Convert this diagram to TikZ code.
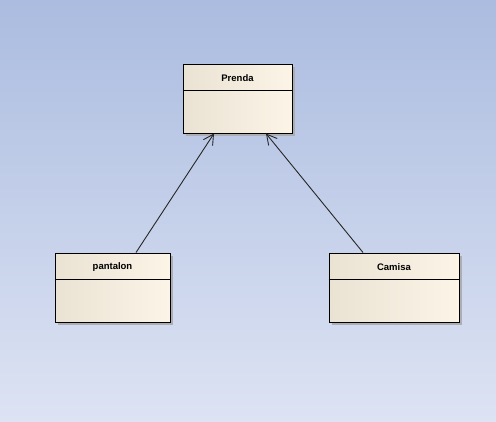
\documentclass[tikz,border=0pt]{standalone}
\usepackage{fontspec}
\setsansfont{Liberation Sans}
\usetikzlibrary{arrows.meta,shadows}
\definecolor{bgtop}{RGB}{171,188,224}
\definecolor{bgbottom}{RGB}{221,227,243}
\definecolor{boxleft}{RGB}{234,226,211}
\definecolor{boxright}{RGB}{252,244,230}
\definecolor{shadowgray}{RGB}{172,174,180}
\tikzset{
classbox/.style={
  rectangle,
  draw=black,
  line width=1pt,
  inner sep=0pt,
  minimum height=69pt,
  left color=boxleft,
  right color=boxright,
  drop shadow={shadow xshift=3pt,shadow yshift=-3pt,fill=shadowgray,opacity=1}
},
classname/.style={
  font=\sffamily\bfseries\fontsize{9.5}{11}\selectfont,
  inner sep=1pt
},
classline/.style={line width=1pt},
generalize/.style={
  draw=black!85,
  line width=0.9pt,
  -{Straight Barb[length=10pt,width=11pt,line width=0.9pt]}
}
}
\begin{document}
\begin{tikzpicture}[x=1pt,y=-1pt]
\fill[top color=bgtop,bottom color=bgbottom] (0,0) rectangle (496,421);
\node[classbox,minimum width=109pt] (prenda) at (237.5,98.5) {};
\node[classbox,minimum width=115pt] (pantalon) at (112.5,287.5) {};
\node[classbox,minimum width=130pt] (camisa) at (394,287.5) {};
\node[classname] (prenda-name) at ([yshift=-15pt]prenda.north) {Prenda};
\node[classname] (pantalon-name) at ([yshift=-15pt]pantalon.north) {pantalon};
\node[classname] (camisa-name) at ([yshift=-15pt]camisa.north) {Camisa};
% the compartment rules
\foreach \c in {prenda,pantalon,camisa}
{
  \draw[classline]
    ([yshift=-27pt]\c.north west) --
    ([yshift=-27pt]\c.north east);
}
\draw[generalize] ([xshift=23.5pt]pantalon.north) -- ([xshift=-23.5pt]prenda.south);
\draw[generalize] ([xshift=-31pt]camisa.north) -- ([xshift=28.5pt]prenda.south);
\end{tikzpicture}
\end{document}
